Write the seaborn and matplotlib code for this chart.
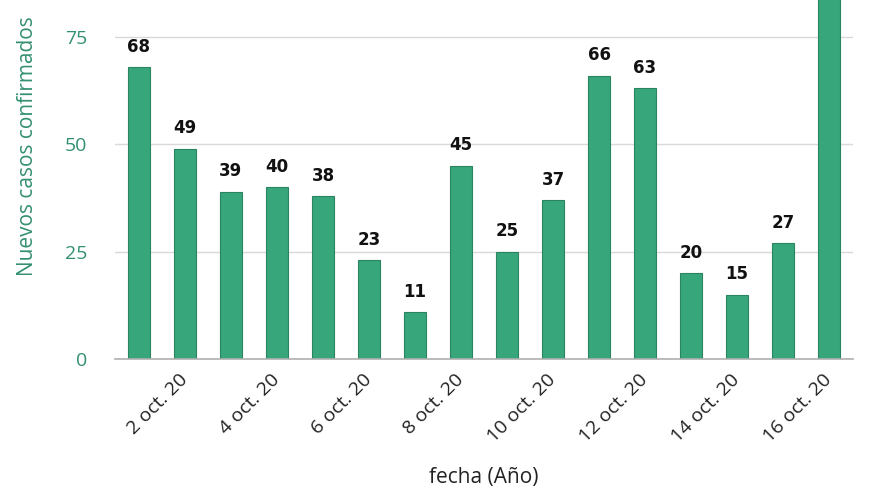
import matplotlib
matplotlib.use("Agg")
import matplotlib.pyplot as plt
import seaborn as sns
import pandas as pd

# Data
days = [f"{d} oct. 20" for d in range(1, 17)]
cases = [68, 49, 39, 40, 38, 23, 11, 45, 25, 37, 66, 63, 20, 15, 27, 98]
tick_labels = ["2 oct. 20", "4 oct. 20", "6 oct. 20", "8 oct. 20",
               "10 oct. 20", "12 oct. 20", "14 oct. 20", "16 oct. 20"]
y_ticks = [0, 25, 50, 75]

df = pd.DataFrame({"fecha": days, "casos": cases})

sns.set_theme(style="white")
plt.rcParams["font.family"] = ["Open Sans", "DejaVu Sans"]

fig = plt.figure(figsize=(8.8, 4.95), dpi=100)
ax = fig.add_axes([0.1307, 0.2747, 0.8386, 0.7253])

sns.barplot(data=df, x="fecha", y="casos", order=days, color="#37a67b",
            saturation=1, width=0.46, edgecolor="#2a8460", linewidth=0.8, ax=ax)

for i, v in enumerate(cases):
    ax.annotate(str(v), xy=(i, v), xytext=(0, 11), textcoords="offset points",
                ha="center", va="baseline", fontsize=12, fontweight="bold",
                family="DejaVu Sans", color="#111111")

ax.set_xlim(-0.52, 15.52)
ax.set_ylim(0, 83.6)
ax.set_yticks(y_ticks)
ax.set_yticklabels([str(t) for t in y_ticks])
ax.yaxis.grid(True, color="#d9d9d9", linewidth=1)
ax.set_axisbelow(True)

ax.set_xticks([days.index(t) for t in tick_labels])
ax.set_xticklabels(tick_labels, rotation=45, ha="right", va="center",
                   rotation_mode="anchor", fontsize=14, color="#222222")
ax.tick_params(axis="x", length=8, width=1, color="#b0b0b0", direction="out", pad=5)
ax.tick_params(axis="y", length=0, labelsize=14, labelcolor="#33906f", pad=20)

for s in ["left", "right", "top"]:
    ax.spines[s].set_visible(False)
ax.spines["bottom"].set_color("#b0b0b0")
ax.spines["bottom"].set_linewidth(1.2)

ax.set_xlabel("fecha (Año)", fontsize=15, color="#222222")
ax.xaxis.set_label_coords(0.5, -0.3)
ax.set_ylabel("Nuevos casos confirmados", fontsize=15, color="#33906f")
ax.yaxis.set_label_coords(-0.105, 0.593)

fig.savefig("out.png", dpi=100)
